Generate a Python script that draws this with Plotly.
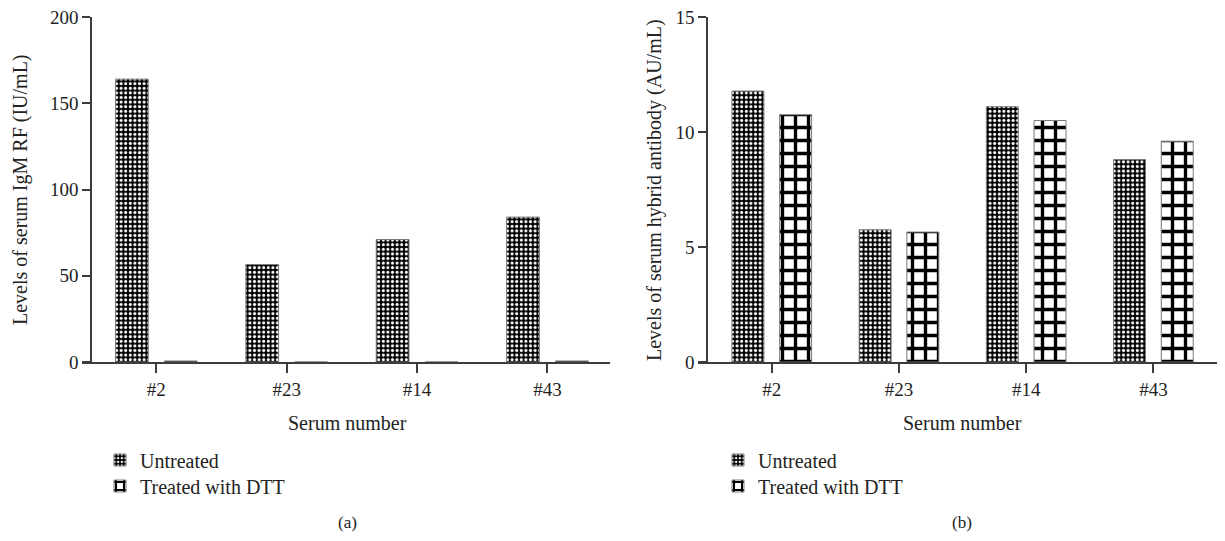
import plotly.graph_objects as go

categories = ["#2", "#23", "#14", "#43"]
igm_untreated = [164, 56.5, 71, 84]
igm_treated = [0.6, 0, 0, 0.6]
hyb_untreated = [11.78, 5.75, 11.1, 8.8]
hyb_treated = [10.75, 5.65, 10.5, 9.6]
series_names = ["Untreated", "Treated with DTT"]
igm_ticks = [0, 50, 100, 150, 200]
hyb_ticks = [0, 5, 10, 15]

FONT = "Liberation Serif"
OFF = 8                      # page body margin
W, H = 1225 - 2 * OFF, 541 - 2 * OFF

def px(x):
    return (x - OFF) / W

def py(y):
    return 1 - (y - OFF) / H

pat_u = dict(shape=".", size=4.6, solidity=0.35, fgcolor="white", bgcolor="black", fillmode="replace")
pat_t = dict(shape="+", size=13, solidity=0.45, fgcolor="black", bgcolor="white", fillmode="replace")
line = dict(color="#7a7a7a", width=1)

fig = go.Figure()
fig.add_trace(go.Bar(x=categories, y=igm_untreated, name=series_names[0], xaxis="x", yaxis="y",
                     marker=dict(color="black", pattern=pat_u, line=line), legend="legend"))
fig.add_trace(go.Bar(x=categories, y=igm_treated, name=series_names[1], xaxis="x", yaxis="y",
                     marker=dict(color="white", pattern=pat_t, line=line), legend="legend3"))
fig.add_trace(go.Bar(x=categories, y=hyb_untreated, name=series_names[0], xaxis="x2", yaxis="y2",
                     marker=dict(color="black", pattern=pat_u, line=line), legend="legend2"))
fig.add_trace(go.Bar(x=categories, y=hyb_treated, name=series_names[1], xaxis="x2", yaxis="y2",
                     marker=dict(color="white", pattern=pat_t, line=line), legend="legend4"))

axis_color = "#3c3c3c"
tickfont = dict(family=FONT, size=19, color="#222")
ydom = [py(362), py(17)]

common_x = dict(type="category", showline=True, linecolor=axis_color, linewidth=1.5,
                ticks="outside", ticklen=9, tickwidth=1.5, tickcolor=axis_color,
                tickfont=tickfont, showgrid=False, zeroline=False, fixedrange=True,
                automargin=False)
common_y = dict(showline=True, linecolor=axis_color, linewidth=1.5, ticks="outside",
                ticklen=8, tickwidth=1.5, tickcolor=axis_color, tickfont=tickfont,
                showgrid=False, zeroline=False, domain=ydom, automargin=False,
                ticklabeloverflow="allow")

def leg(x, y):
    return dict(x=px(x), y=py(y), xanchor="left", yanchor="middle", bgcolor="rgba(0,0,0,0)",
                font=dict(family=FONT, size=20, color="#222"), itemclick=False,
                itemdoubleclick=False, borderwidth=0)

fig.update_layout(
    width=W, height=H,
    margin=dict(l=0, r=0, t=0, b=0, pad=0, autoexpand=False),
    paper_bgcolor="white", plot_bgcolor="white",
    barmode="group", bargap=0.25, bargroupgap=0.33,
    font=dict(family=FONT, size=20, color="#222"),
    xaxis=dict(domain=[px(82), px(610)], anchor="y", range=[-0.57, 3.48], **common_x),
    yaxis=dict(anchor="free", position=px(91), range=[0, igm_ticks[-1]],
               tickmode="array", tickvals=igm_ticks, **common_y),
    xaxis2=dict(domain=[px(698), 1.0], anchor="y2", range=[-0.58, 3.5], **common_x),
    yaxis2=dict(anchor="free", position=px(707), range=[0, hyb_ticks[-1]],
                tickmode="array", tickvals=hyb_ticks, **common_y),
    legend=leg(100, 460),
    legend3=leg(100, 486),
    legend2=leg(718, 460),
    legend4=leg(718, 486),
    showlegend=True,
)

ann = []
def add(text, x, y, size=20, angle=0):
    ann.append(dict(text=text, x=px(x), y=py(y), xref="paper", yref="paper",
                    xanchor="center", yanchor="middle", textangle=angle, showarrow=False,
                    font=dict(family=FONT, size=size, color="#222")))
add("Levels of serum IgM RF (IU/mL)", 20, 190, angle=-90)
add("Levels of serum hybrid antibody (AU/mL)", 654, 190, angle=-90)
add("Serum number", 347, 423)
add("Serum number", 962, 423)
add("(a)", 347, 522, size=17)
add("(b)", 962, 522, size=17)
fig.update_layout(annotations=ann)

fig.write_html("out.html")
